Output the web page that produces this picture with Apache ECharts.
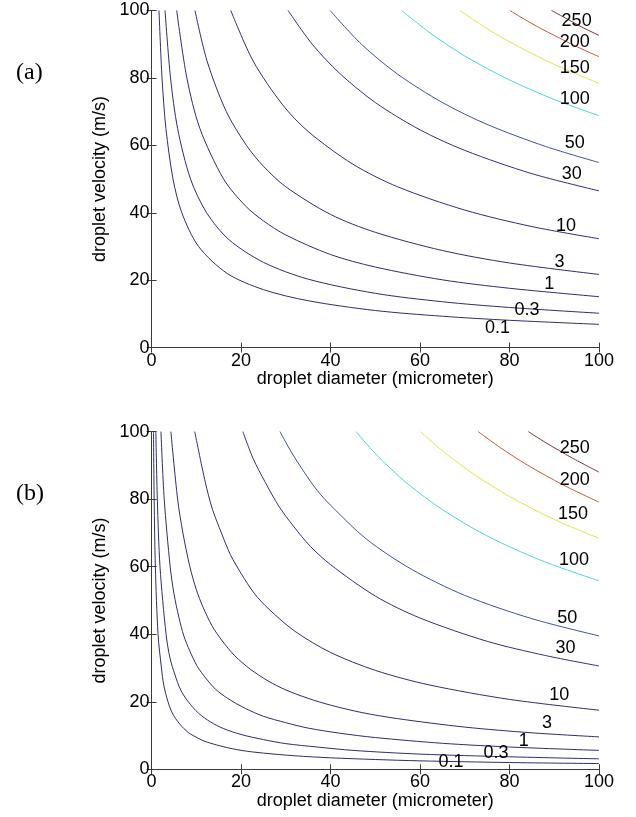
<!DOCTYPE html>
<html>
<head>
<meta charset="utf-8">
<script src="https://cdn.jsdelivr.net/npm/echarts@6/dist/echarts.min.js"></script>
<style>
  html, body { margin: 0; padding: 0; background: #fff; }
  #chart { width: 636px; height: 817px; }
</style>
</head>
<body>
<div id="chart"></div>
<script>
// contour levels, same in both panels
const levels = ['0.1', '0.3', '1', '3', '10', '30', '50', '100', '150', '200', '250']

// panel (a) contour lines, [diameter, velocity]
const curveA01 = [[1.65, 100], [2.33, 80], [3.2, 65], [4.79, 50], [6.75, 40], [10.5, 30], [16.9, 22], [25, 17.2], [35, 13.9], [50, 11.0], [65, 9.3], [80, 8.1], [100, 6.9]]
const curveA03 = [[3.0, 100], [4.23, 80], [5.81, 65], [8.7, 50], [12.3, 40], [17.3, 32], [25, 25.3], [35, 20.3], [50, 16.1], [65, 13.6], [80, 11.9], [100, 10.2]]
const curveA1 = [[5.61, 100], [7.88, 80], [10.8, 65], [16.1, 50], [21.0, 42], [25, 37.6], [30, 33.4], [40, 27.6], [50, 23.9], [65, 20.1], [80, 17.6], [100, 15.1]]
const curveA3 = [[9.7, 100], [12.4, 85], [16.7, 70], [21.2, 60], [25, 53.8], [30, 47.7], [40, 39.5], [50, 34.2], [65, 28.8], [80, 25.1], [100, 21.7]]
const curveA10 = [[17.7, 100], [22.7, 85], [29.3, 72], [35, 64.1], [45, 54.4], [55, 47.7], [70, 40.8], [85, 35.9], [100, 32.3]]
const curveA30 = [[30.5, 100], [35.9, 90], [42, 81.4], [50, 72.7], [60, 64.6], [70, 58.5], [85, 51.6], [100, 46.5]]
const curveA50 = [[39.9, 100], [46.9, 90], [55, 81.1], [65, 72.7], [75, 66.2], [88, 59.7], [100, 54.9]]
const curveA100 = [[55.9, 100], [62, 93.6], [70, 86.5], [80, 79.4], [90, 73.6], [100, 68.8]]
const curveA150 = [[68.9, 100], [75, 94.6], [82, 89.3], [90, 84.0], [100, 78.4]]
const curveA200 = [[80.1, 100], [85, 96.1], [90, 92.6], [95, 89.3], [100, 86.3]]
const curveA250 = [[89.4, 100], [93, 97.4], [96, 95.2], [100, 92.6]]

// panel (b) contour lines
const curveB01 = [[0.42, 100], [0.57, 80], [0.84, 60], [1.44, 40], [2.2, 30], [2.71, 25], [3.66, 20], [4.5, 17], [5.38, 15], [6.3, 13.4], [7.26, 12], [8.2, 10.9], [9.27, 10], [11.5, 8.5], [13, 7.8], [16, 6.7], [20, 5.6], [25, 4.8], [32, 4.0], [40, 3.4], [50, 2.9], [60, 2.5], [80, 2.0], [100, 1.7]]
const curveB03 = [[0.95, 100], [1.28, 80], [1.88, 60], [3.23, 40], [4.1, 33], [5.22, 28], [6.5, 23.5], [8.19, 20], [10.5, 16.6], [13.2, 14], [16, 12.1], [20, 10.3], [25, 8.8], [30, 7.6], [37, 6.6], [45, 5.6], [60, 4.5], [80, 3.7], [100, 3.1]]
const curveB1 = [[2.09, 100], [2.82, 80], [4.15, 60], [5.0, 52], [6.1, 45], [7.2, 39.5], [8.55, 35], [10.2, 30.5], [12.1, 27], [14.3, 23.7], [17, 21.0], [21, 18], [25, 15.7], [30, 13.8], [35, 12.2], [42, 10.7], [50, 9.4], [65, 7.7], [80, 6.6], [100, 5.6]]
const curveB3 = [[4.31, 100], [5.81, 80], [7.0, 70], [8.55, 60], [10, 53.2], [11.5, 48], [13.5, 42.5], [15.8, 38], [18.6, 33.6], [22, 29.7], [26, 26.2], [30, 23.5], [35, 21], [40, 19.0], [47, 16.8], [55, 15.0], [70, 12.5], [85, 10.8], [100, 9.6]]
const curveB10 = [[9.64, 100], [12.0, 85], [13.6, 77], [15.6, 70], [17.6, 63.6], [20.0, 58], [23, 52], [26, 47.7], [32, 40.9], [40, 34.6], [50, 29.3], [62, 25.0], [80, 20.7], [100, 17.5]]
const curveB30 = [[20.4, 100], [22.7, 92], [25.4, 85], [28.4, 78], [31.7, 72], [35.5, 66], [40, 60.6], [50, 51.3], [60, 44.8], [75, 37.9], [88, 33.7], [100, 30.6]]
const curveB50 = [[28.7, 100], [31.2, 94], [34.1, 88], [37, 82.6], [40, 78.2], [48, 68.2], [58, 59.3], [70, 51.5], [85, 44.6], [100, 39.5]]
const curveB100 = [[45.7, 100], [50, 93.5], [57, 84.8], [65, 76.9], [75, 69.1], [87, 61.9], [100, 55.8]]
const curveB150 = [[60.1, 100], [65, 94.3], [72, 87.4], [80, 80.8], [90, 74.0], [100, 68.4]]
const curveB200 = [[73.0, 100], [78, 95.2], [84, 90.1], [92, 84.2], [100, 79.1]]
const curveB250 = [[84.2, 100], [88, 96.8], [94, 92.2], [100, 88.0]]

// where the level numbers sit on each panel (data coords)
const labelAnchorsA = [[77.3, 5.7], [83.9, 11.1], [88.9, 18.9], [91.2, 25.4], [92.6, 36.2], [93.9, 51.5], [94.6, 60.6], [94.6, 73.8], [94.6, 82.9], [94.6, 90.5], [95.0, 97.0]]
const labelAnchorsB = [[66.9, 2.3], [77.0, 4.9], [83.2, 8.5], [88.4, 13.7], [91.1, 22.0], [92.5, 35.8], [92.9, 44.9], [94.4, 62.0], [94.2, 75.6], [94.6, 85.6], [94.6, 95.2]]

const axisTicks = [0, 20, 40, 60, 80, 100]

const curvesA = [curveA01, curveA03, curveA1, curveA3, curveA10, curveA30, curveA50, curveA100, curveA150, curveA200, curveA250]
const curvesB = [curveB01, curveB03, curveB1, curveB3, curveB10, curveB30, curveB50, curveB100, curveB150, curveB200, curveB250]

// jet-like colours as they look in the scan
const lineColors = ['#2e2e6c', '#2e2e6c', '#2e2e6c', '#2e2e6c', '#2f2f74', '#30307e', '#3d52a0', '#4cd6dc', '#e6e24a', '#c8593f', '#7c3535']

const font = 'Liberation Sans, Arial, sans-serif'
const boxColor = '#3a3a3a'

const grids = [
  { left: 151.6, top: 10.5, width: 447.4, height: 337.1 },
  { left: 151.6, top: 431.6, width: 447.4, height: 337.7 }
]

function xAxes (g) {
  const base = {
    type: 'value',
    gridIndex: g,
    min: axisTicks[0],
    max: axisTicks[axisTicks.length - 1],
    interval: axisTicks[1] - axisTicks[0],
    splitLine: { show: false },
    axisLine: { show: true, lineStyle: { color: boxColor, width: 1 } },
    axisTick: { show: true, inside: true, length: 5, lineStyle: { color: boxColor } }
  }
  return [
    Object.assign({}, base, {
      position: 'bottom',
      axisLabel: { show: true, fontFamily: font, fontSize: 18, color: '#000', margin: 4 },
      name: 'droplet diameter (micrometer)',
      nameLocation: 'middle',
      nameGap: 19,
      nameTextStyle: { fontFamily: font, fontSize: 18, color: '#000' }
    }),
    Object.assign({}, base, { position: 'top', axisLabel: { show: false } })
  ]
}

function yAxes (g) {
  const base = {
    type: 'value',
    gridIndex: g,
    min: axisTicks[0],
    max: axisTicks[axisTicks.length - 1],
    interval: axisTicks[1] - axisTicks[0],
    splitLine: { show: false },
    axisLine: { show: true, lineStyle: { color: boxColor, width: 1 } },
    axisTick: { show: true, inside: true, length: 5, lineStyle: { color: boxColor } }
  }
  return [
    Object.assign({}, base, {
      position: 'left',
      axisLabel: { show: true, fontFamily: font, fontSize: 18, color: '#000', margin: 2 },
      name: 'droplet velocity (m/s)',
      nameLocation: 'middle',
      nameGap: 35,
      nameTextStyle: { fontFamily: font, fontSize: 18, color: '#000' }
    }),
    Object.assign({}, base, { position: 'right', axisLabel: { show: false } })
  ]
}

function panelSeries (curves, anchors, g) {
  const out = curves.map((pts, i) => ({
    type: 'line',
    xAxisIndex: g * 2,
    yAxisIndex: g * 2,
    data: pts,
    symbol: 'none',
    smooth: 0.3,
    silent: true,
    lineStyle: { color: lineColors[i], width: 1 }
  }))
  out.push({
    type: 'scatter',
    xAxisIndex: g * 2,
    yAxisIndex: g * 2,
    data: anchors.map((p, i) => [p[0], p[1], levels[i]]),
    symbolSize: 2,
    itemStyle: { color: 'rgba(0,0,0,0)' },
    silent: true,
    z: 5,
    label: {
      show: true,
      position: 'inside',
      formatter: p => p.data[2],
      fontFamily: font,
      fontSize: 18,
      color: '#000',
      textBorderWidth: 0,
      opacity: 1
    }
  })
  return out
}

const chart = echarts.init(document.getElementById('chart'), null, { renderer: 'canvas' })
chart.setOption({
  backgroundColor: '#fff',
  animation: false,
  grid: grids.map(g => Object.assign({ outerBoundsMode: 'none' }, g)),
  xAxis: xAxes(0).concat(xAxes(1)),
  yAxis: yAxes(0).concat(yAxes(1)),
  series: panelSeries(curvesA, labelAnchorsA, 0).concat(panelSeries(curvesB, labelAnchorsB, 1)),
  graphic: [
    { type: 'text', left: 16, top: 61, style: { text: '(a)', font: '24px "Liberation Serif", "Times New Roman", serif', fill: '#000' } },
    { type: 'text', left: 16, top: 482, style: { text: '(b)', font: '24px "Liberation Serif", "Times New Roman", serif', fill: '#000' } }
  ]
})
</script>
</body>
</html>
